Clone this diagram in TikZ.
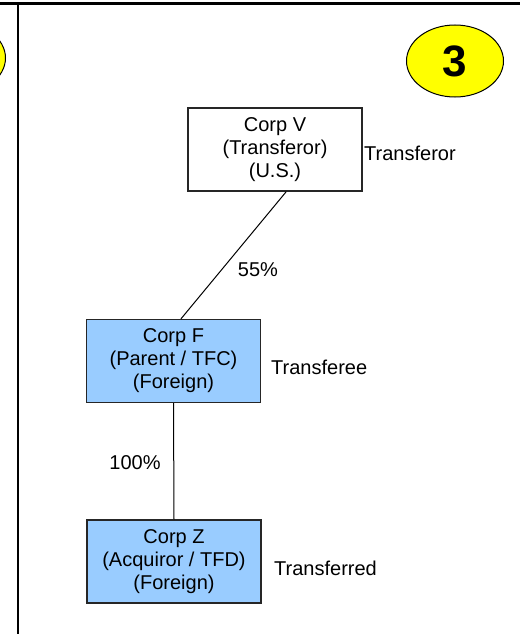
\documentclass[tikz,border=0pt]{standalone}
\usepackage{fontspec}
\setmainfont{Liberation Sans}
\usepackage{xcolor}
\usetikzlibrary{positioning,shapes.geometric}
\definecolor{corpblue}{HTML}{99CCFF}
\definecolor{badge}{HTML}{FFFF00}
\tikzstyle{corp}=[draw=black!85, line width=1.2pt, minimum width=174pt, minimum height=83pt,
		inner sep=0, align=center, font=\fontsize{20}{23}\selectfont]
\tikzstyle{fcorp}=[corp, fill=corpblue]
\tikzstyle{lbl}=[inner sep=0, anchor=west, font=\fontsize{20}{23}\selectfont]
\tikzstyle{pct}=[inner sep=0, font=\fontsize{20}{23}\selectfont]
\tikzstyle{badgeshape}=[ellipse, draw, line width=1pt, fill=badge, minimum width=97pt,
		minimum height=72pt, inner sep=0, font=\fontsize{44}{44}\selectfont\bfseries]

\begin{document}
\begin{tikzpicture}[x=1pt, y=-1pt]
                \useasboundingbox (0,0) rectangle (520,634);
                % frame
                \draw[line width=3pt] (0,4) -- (520,4);
                \draw[line width=2.5pt] (18,4) -- (18,634);
                \node[badgeshape] (prev) at (-43,58) {};
                \node[badgeshape] (badge3) at (455,61) {3};
                % corps
                \node[corp] (corpv) at (275,149.5) {Corp V\\(Transferor)\\(U.S.)};
                \node[fcorp] (corpf) at (173.5,361) {Corp F\\(Parent / TFC)\\(Foreign)};
                \node[fcorp] (corpz) at (174,561.5) {Corp Z\\(Acquiror / TFD)\\(Foreign)};
                \node[lbl] (tror) at (364,153) {Transferor};
                \node[lbl] (tree) at (271,367) {Transferee};
                \node[lbl] (tred) at (274,568) {Transferred};
                % ownership
                \draw[line width=1pt] (corpv.-75) -- (corpf.80);
                \draw[line width=1pt] (corpf.south) -- (corpz.north);
                \node[pct] (own1) at (258,270) {55\%};
                \node[pct] (own2) at (135,463) {100\%};
            \end{tikzpicture}
\end{document}
